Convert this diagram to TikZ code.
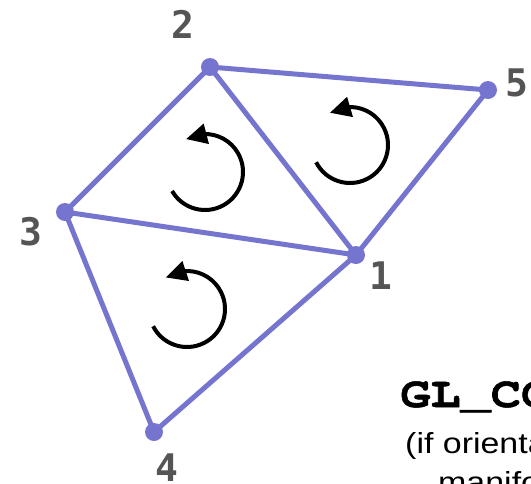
\documentclass[tikz,border=0pt]{standalone}
\usepackage{fontspec}
\setmainfont{Liberation Sans}
\setmonofont{TeX Gyre Cursor}[BoldFeatures={FakeBold=1.2}]
\newfontfamily\numfont{DejaVu Sans Mono}
\usetikzlibrary{arrows.meta,bending,backgrounds}
\definecolor{meshblue}{RGB}{117,117,208}
\definecolor{numgray}{RGB}{85,85,85}
\begin{document}
\begin{tikzpicture}[x=1pt,y=-1pt,
		vert/.style={circle,fill=meshblue,inner sep=0pt,minimum size=18pt},
		vlabel/.style={font=\numfont\bfseries\fontsize{38}{38}\selectfont,text=numgray,inner sep=0pt},
		meshedge/.style={draw=meshblue,line width=5pt},
		turn/.style={line width=4pt,-{Triangle[length=21pt,width=20pt]}},
		caption/.style={anchor=base west,inner sep=0pt,xscale=1.17}]
			\useasboundingbox (0,0) rectangle (531,483);
			\clip (0,0) rectangle (531,483);
			\foreach \v/\x/\y in {1/356/255,2/210/67,3/65/212,4/154/432,5/488/90} { \node[vert] (v\v) at (\x,\y) {}; }
			\foreach \v/\x/\y in {1/381/276,2/183/24,3/31/232,4/167/468,5/517/83} { \node[vlabel] (l\v) at (\x,\y) {\v}; }
			\begin{pgfonlayer}{background}
			\foreach \a/\b in {2/5,5/1,1/2,2/3,3/1,3/4,4/1} { \draw[meshedge] (v\a.center) -- (v\b.center); }
			\end{pgfonlayer}
			\foreach \cx/\cy/\s/\e in {205/172/150/-120,350/145/153/-122,187/309/153/-124} { \draw[turn] (\cx,\cy) ++(\s:38) arc[start angle=\s,end angle=\e,radius=38]; }
			\node[caption,font=\ttfamily\bfseries\fontsize{43}{43}\selectfont] (mode) at (400,407) {GL\_CC};
			\node[caption,font=\fontsize{29}{29}\selectfont] (note) at (405,453) {(if orienta};
			\node[caption,font=\fontsize{29}{29}\selectfont] (note2) at (438,492) {manifo};
		\end{tikzpicture}
\end{document}
